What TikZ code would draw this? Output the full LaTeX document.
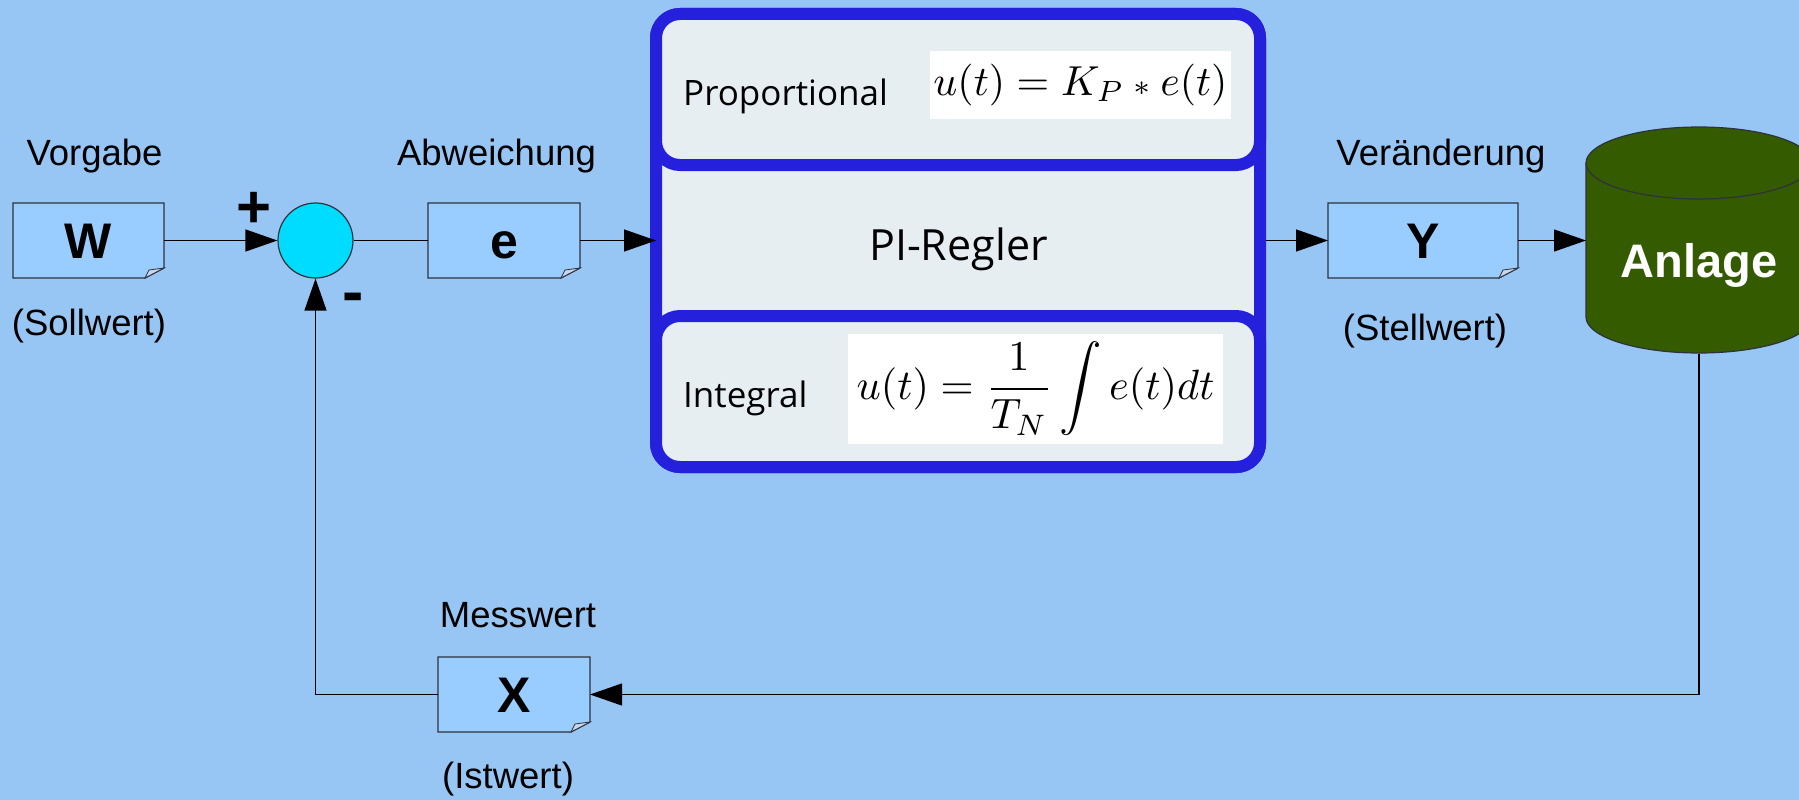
\documentclass[tikz,border=0pt]{standalone}
\usepackage[no-math]{fontspec}
\setmainfont{Liberation Sans}
\newfontfamily\pifont{Open Sans}
\usepackage{graphicx}
\usetikzlibrary{arrows.meta,backgrounds}
\definecolor{bgblue}{RGB}{152,198,244}
\definecolor{boxfill}{RGB}{153,204,255}
\definecolor{boxline}{RGB}{45,50,60}
\definecolor{foldfill}{RGB}{200,215,235}
\definecolor{sumcyan}{RGB}{0,220,255}
\definecolor{piblue}{RGB}{36,32,220}
\definecolor{pifill}{RGB}{230,238,242}
\definecolor{plantgreen}{RGB}{53,91,0}
\tikzset{
  valbox/.style={minimum width=#1, minimum height=75pt, inner sep=0pt, outer sep=0pt,
    text height=36pt, text depth=0pt, font=\bfseries\fontsize{50}{50}\selectfont},
  lbl/.style={font=\fontsize{36.5}{40}\selectfont, anchor=base, inner sep=0pt},
  sig/.style={line width=1.3pt, draw=black},
  arr/.style={sig, -{Triangle[length=32pt,width=22pt]}},
  pibox/.style={draw=piblue, line width=12pt, fill=pifill, rounded corners=24pt, outer sep=0pt, inner sep=0pt},
  pilbl/.style={font=\pifont\fontsize{35}{40}\selectfont, inner sep=0pt},
  formula/.style={fill=white, inner sep=0pt},
  outl/.style={draw=boxline, line width=1.3pt},
}
\newcommand{\foldedbox}[1]{%
  \filldraw[fill=boxfill, outl] (#1.north west) -- (#1.north east) -- ([yshift=10pt]#1.south east)
    -- ([xshift=-19pt]#1.south east) -- (#1.south west) -- cycle;
  \filldraw[fill=foldfill, draw=boxline, line width=0.8pt] ([xshift=-19pt]#1.south east)
    -- ([yshift=10pt]#1.south east) -- ([xshift=-15pt,yshift=8pt]#1.south east) -- cycle;}
\begin{document}
\begin{tikzpicture}[x=1pt,y=-1pt]
\useasboundingbox (0,0) rectangle (1799,800);
\clip (0,0) rectangle (1799,800);
% value boxes
\node[valbox=151pt] (W) at (88.5,240.5) {W};
\node[valbox=152pt] (e) at (504,240.5) {e};
\node[valbox=190pt] (Y) at (1423,240.5) {Y};
\node[valbox=152pt] (X) at (514,694.5) {X};
\begin{scope}[on background layer]
  \fill[bgblue] (0,0) rectangle (1799,800);
  \foldedbox{W}
  \foldedbox{e}
  \foldedbox{Y}
  \foldedbox{X}
\end{scope}
% summing point
\node[circle, draw=boxline, line width=1.2pt, fill=sumcyan, minimum size=75pt, inner sep=0pt] (sum) at (315.5,240.5) {};
\node[font=\bfseries\fontsize{60}{60}\selectfont, anchor=base, inner sep=0pt] (plus) at (254,227) {+};
\node[font=\bfseries\fontsize{64}{64}\selectfont, anchor=base, inner sep=0pt] (minus) at (353,313) {-};
% labels
\node[lbl] (vorgabe) at (94.5,165) {Vorgabe};
\node[lbl] (soll) at (89,335) {(Sollwert)};
\node[lbl] (abw) at (496.5,165) {Abweichung};
\node[lbl] (ver) at (1441,165) {Veränderung};
\node[lbl] (stell) at (1425,340) {(Stellwert)};
\node[lbl] (mess) at (518,627) {Messwert};
\node[lbl] (ist) at (508,788) {(Istwert)};
% PI controller
\node[pibox, minimum width=604pt, minimum height=453pt] (pi) at (958,240.5) {};
\node[pibox, minimum width=604pt, minimum height=151pt] (pitop) at (958,89.5) {};
\node[pibox, minimum width=604pt, minimum height=151pt] (pibot) at (958,391.5) {};
\node[pilbl, anchor=base west] (prop) at (683,105) {Proportional};
\node[pilbl, anchor=base west] (integ) at (683,407) {Integral};
\node[pilbl, anchor=base, font=\pifont\fontsize{43}{48}\selectfont] (pireg) at (958.5,260) {PI-Regler};
\node[formula, minimum width=301pt, minimum height=68pt] (fP) at (1080.5,85)
  {\resizebox{294pt}{!}{$u(t)=K_P \mathbin{\scriptstyle *} e(t)$}};
\node[formula, minimum width=375pt, minimum height=110pt] (fI) at (1035.5,389)
  {\resizebox{358pt}{!}{$\displaystyle u(t)=\frac{1}{T_N}\int e(t)dt$}};
% plant
\draw[outl, fill=plantgreen, line width=1.2pt] (1586,163) -- (1586,317)
  arc[start angle=180,end angle=360,x radius=113pt,y radius=36pt] -- (1812,163)
  arc[start angle=0,end angle=180,x radius=113pt,y radius=36pt] -- cycle;
\draw[outl, line width=1.2pt] (1586,163) arc[start angle=180,end angle=360,x radius=113pt,y radius=36pt];
\node[minimum width=226pt, minimum height=226pt, inner sep=0pt, outer sep=0pt] (anlage) at (1699,240.5) {};
\node[font=\bfseries\fontsize{47}{50}\selectfont, text=white, anchor=base, inner sep=0pt] (anlagetxt) at (1699,277) {Anlage};
% connectors
\draw[arr] (W.east) -- (sum.west);
\draw[sig] (sum.east) -- (e.west);
\draw[arr] (e.east) -- (pi.west);
\draw[arr] ([xshift=6pt]pi.east) -- (Y.west);
\draw[arr] (Y.east) -- (anlage.west);
\draw[arr] (anlage.south) |- (X.east);
\draw[arr] (X.west) -| (sum.south);
\end{tikzpicture}
\end{document}
